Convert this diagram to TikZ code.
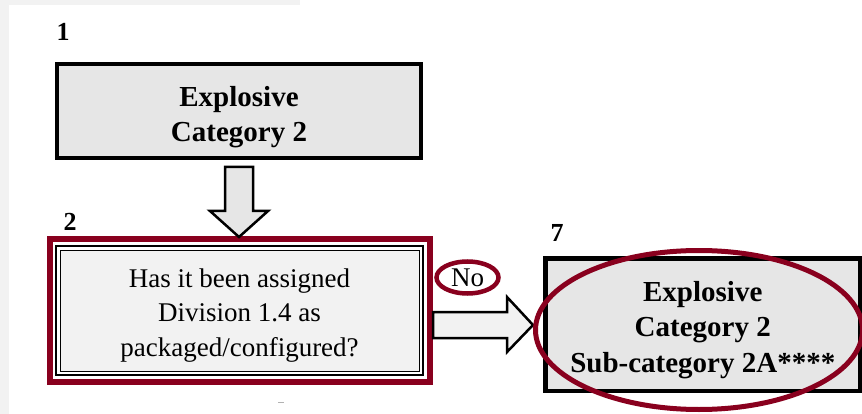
\documentclass[tikz,border=0pt]{standalone}
\usepackage{fontspec}
\setmainfont{Liberation Serif}
\usetikzlibrary{shapes.geometric,fit}
\definecolor{boxgray}{RGB}{230,230,230}
\definecolor{qgray}{RGB}{242,242,242}
\definecolor{markred}{RGB}{137,0,30}

\begin{document}
\begin{tikzpicture}[x=1pt,y=-1pt,outer sep=0pt,line join=miter]
		\tikzstyle{result}=[draw=black,fill=boxgray,inner sep=0pt]
		\tikzstyle{bold text}=[align=center,font=\fontsize{29}{35.5}\selectfont\bfseries]
		\tikzstyle{question}=[draw=black,fill=qgray,line width=0.8pt,inner sep=0pt]
		\tikzstyle{plain text}=[align=center,font=\fontsize{27}{34.5}\selectfont]
		\tikzstyle{num}=[font=\fontsize{26}{26}\selectfont\bfseries]
		\tikzstyle{blockarrow}=[draw=black,line width=2.5pt]
		\tikzstyle{redring}=[draw=markred,ellipse,inner sep=0pt]
		\useasboundingbox (0,0) rectangle (862,414);
		\fill[white] (0,0) rectangle (862,414);
		\fill[black!5] (0,0) rectangle (9,414);
		\fill[black!5] (0,0) rectangle (300,5);
		% boxes
		\node[result, line width=4pt, minimum width=364pt, minimum height=94pt]
			(A) at (239,111) {};
		\node[question, minimum width=359pt, minimum height=121pt]
			(B) at (239.5,310.5) {};
		\node (B1) [draw=black, line width=2.5pt, fit=(B), inner sep=4pt] {};
		\node (B2) [draw=markred, line width=6pt, fit=(B1), inner sep=6.5pt] {};
		\node[result, line width=4.5pt, minimum width=314.5pt, minimum height=132.5pt]
			(C) at (702.75,324.75) {};
		% texts
		\node [bold text, yshift=-6pt] (At) at (A.center) {Explosive\\Category 2};
		\node [plain text, yshift=-5pt] (Bt) at (B.center)
			{Has it been assigned\\Division 1.4 as\\packaged/configured?};
		\node [bold text, yshift=-5pt] (Ct) at (C.center)
			{Explosive\\Category 2\\Sub-category 2A****};
		% numbers
		\node[num] (n1) at (63,32) {1};
		\node[num] (n2) at (70,222) {2};
		\node[num] (n7) at (557,233) {7};
		% block arrows
		\draw[blockarrow, fill=boxgray] (225,167) -- (253,167) -- (253,211) -- (268,211)
			-- (239,237) -- (210,211) -- (225,211) -- cycle;
		\draw[blockarrow, fill=qgray] (433,312) -- (507,312) -- (507,297) -- (533,325)
			-- (507,352) -- (507,338) -- (433,338) -- cycle;
		% red rings
		\node[redring, line width=4.5pt, minimum width=62pt, minimum height=32pt,
			font=\fontsize{27}{27}\selectfont] (No) at (467.5,277.5) {No};
		\node[redring, line width=5pt, minimum width=327pt, minimum height=159pt]
			(E) at (699,330) {};
		\draw[black!30, line width=1pt] (278,402) -- (284,402);
	\end{tikzpicture}
\end{document}
